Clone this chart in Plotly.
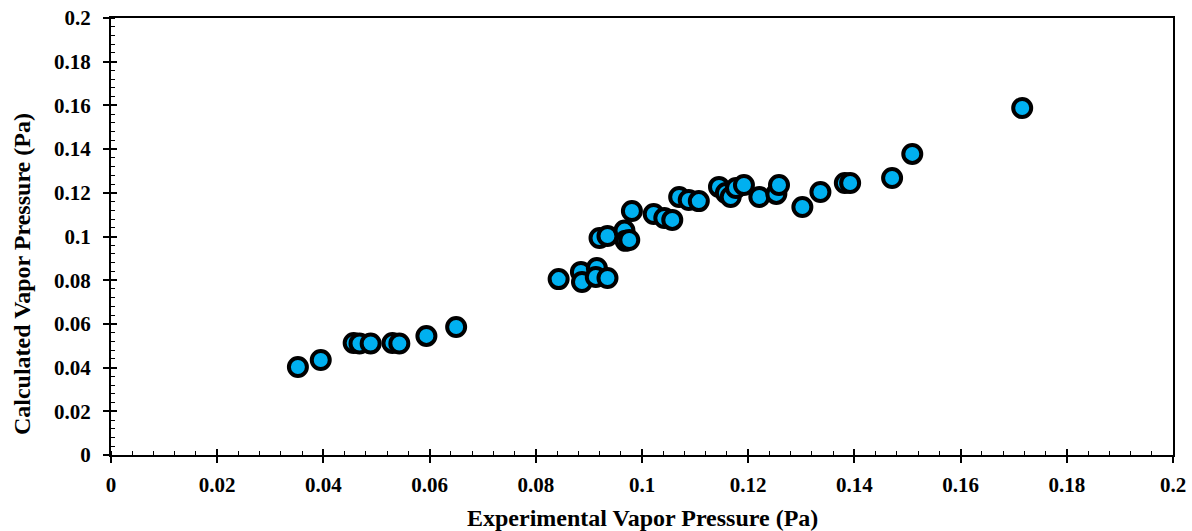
import plotly.graph_objects as go

# Experimental vs. calculated vapor pressure (Pa)
exp_vp = [
    0.0352, 0.0395, 0.0457, 0.0468, 0.0489, 0.0530, 0.0543, 0.0594, 0.0650,
    0.0843, 0.0885, 0.0887, 0.0915, 0.0913, 0.0935,
    0.0920, 0.0935, 0.0967, 0.0969, 0.0976,
    0.0981, 0.1022, 0.1042, 0.1057,
    0.1070, 0.1088, 0.1107, 0.1145, 0.1158, 0.1167, 0.1177, 0.1192,
    0.1221, 0.1253, 0.1258, 0.1302, 0.1336, 0.1382, 0.1392,
    0.1471, 0.1509, 0.1716,
]
calc_vp = [
    0.0403, 0.0435, 0.0513, 0.0510, 0.0510, 0.0513, 0.0510, 0.0545, 0.0586,
    0.0805, 0.0838, 0.0792, 0.0856, 0.0815, 0.0810,
    0.0993, 0.1002, 0.1027, 0.0980, 0.0984,
    0.1117, 0.1103, 0.1085, 0.1076,
    0.1181, 0.1167, 0.1162, 0.1227, 0.1199, 0.1181, 0.1222, 0.1236,
    0.1181, 0.1195, 0.1236, 0.1135, 0.1204, 0.1245, 0.1245,
    0.1268, 0.1378, 0.1588,
]
tick_vals = [0, 0.02, 0.04, 0.06, 0.08, 0.1, 0.12, 0.14, 0.16, 0.18, 0.2]
tick_text = ["0", "0.02", "0.04", "0.06", "0.08", "0.1", "0.12", "0.14", "0.16", "0.18", "0.2"]
x_title = "Experimental Vapor Pressure (Pa)"
y_title = "Calculated Vapor Pressure (Pa)"

FONT = "Liberation Serif"
TITLE_FONT = dict(family=FONT, size=24, color="black", weight="bold")

fig = go.Figure()
fig.add_trace(go.Scatter(
    x=exp_vp, y=calc_vp, mode="markers",
    marker=dict(size=18, color="#00B0F0", line=dict(color="black", width=4)),
    showlegend=False, cliponaxis=False,
))
# empty trace so the overlay axes (inner half of the crossing major ticks) get drawn
fig.add_trace(go.Scatter(x=[], y=[], xaxis="x2", yaxis="y2", showlegend=False))

axis_common = dict(
    range=[0, 0.2], tickvals=tick_vals, ticktext=tick_text,
    showgrid=False, zeroline=False, automargin=False,
    showline=True, linecolor="black", linewidth=2, mirror=True,
    ticks="outside", ticklen=6, tickwidth=1.5, tickcolor="black",
    minor=dict(ticks="inside", ticklen=4, tickwidth=1, tickcolor="black", dtick=0.004, showgrid=False),
    tickfont=dict(family=FONT, size=21, color="black", weight="bold"),
)

fig.update_layout(
    width=1192, height=531,
    margin=dict(l=111, r=19, t=18, b=76),
    paper_bgcolor="white", plot_bgcolor="white",
    xaxis=dict(**axis_common, ticklabelstandoff=4),
    yaxis=dict(**axis_common, ticklabelstandoff=8),
    xaxis2=dict(overlaying="x", range=[0, 0.2], tickvals=tick_vals, showticklabels=False,
                ticks="inside", ticklen=6, tickwidth=1.5, tickcolor="black", automargin=False,
                showgrid=False, zeroline=False, showline=False, side="bottom"),
    yaxis2=dict(overlaying="y", range=[0, 0.2], tickvals=tick_vals, showticklabels=False,
                ticks="inside", ticklen=6, tickwidth=1.5, tickcolor="black", automargin=False,
                showgrid=False, zeroline=False, showline=False, side="left"),
    annotations=[
        dict(text=x_title, xref="paper", yref="paper", x=0.5, y=-0.144,
             xanchor="center", yanchor="middle", showarrow=False, font=TITLE_FONT),
        dict(text=y_title, xref="paper", yref="paper", x=-0.0838, y=0.414,
             xanchor="center", yanchor="middle", textangle=-90, showarrow=False, font=TITLE_FONT),
    ],
)

fig.write_html("out.html")
